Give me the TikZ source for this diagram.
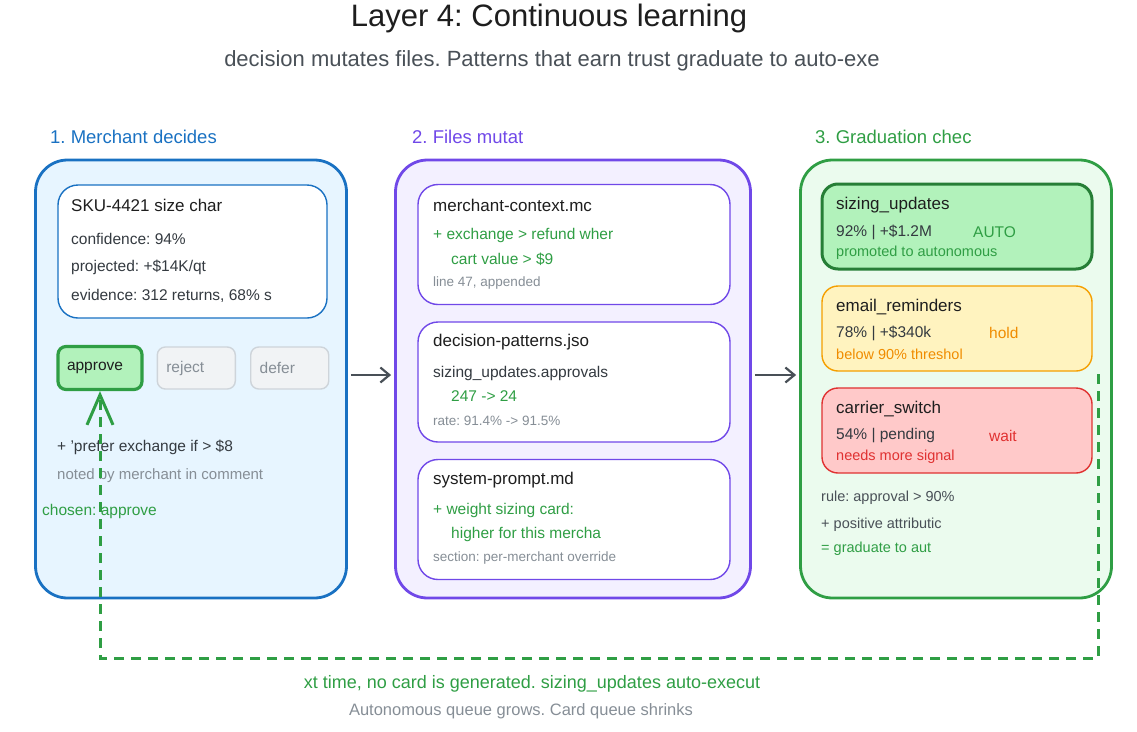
\documentclass[tikz,border=0pt]{standalone}
\usepackage{fontspec}
\setmainfont{Liberation Sans}
\usetikzlibrary{arrows.meta, positioning}
\definecolor{inkdark}{HTML}{1E1E1E}
\definecolor{inkbody}{HTML}{343A40}
\definecolor{inkgray}{HTML}{868E96}
\definecolor{inkarrow}{HTML}{495057}
\definecolor{decideblue}{HTML}{1971C2}
\definecolor{decidefill}{HTML}{E7F5FF}
\definecolor{filepurple}{HTML}{7048E8}
\definecolor{filefill}{HTML}{F3F0FF}
\definecolor{gradgreen}{HTML}{2F9E44}
\definecolor{gradfill}{HTML}{EBFBEE}
\definecolor{autofill}{HTML}{B2F2BB}
\definecolor{holdorange}{HTML}{F59F00}
\definecolor{holdtext}{HTML}{F08C00}
\definecolor{holdfill}{HTML}{FFF3BF}
\definecolor{waitred}{HTML}{E03131}
\definecolor{waitfill}{HTML}{FFC9C9}
\definecolor{btngray}{HTML}{CED4DA}
\definecolor{btnfill}{HTML}{F1F3F5}
\newcommand{\txtsize}[1]{\fontsize{#1pt}{#1pt}\selectfont}
\frenchspacing

\begin{document}
\begin{tikzpicture}[
      x=1pt, y=-1pt,
      node distance  = 13pt,
      panel/.style    = {line width=2.8pt, rounded corners=32pt, minimum width=311pt,
                         minimum height=438pt, inner sep=0pt},
      card/.style     = {draw, fill=white, line width=1.4pt, rounded corners=20pt,
                         minimum width=312pt, minimum height=120pt, inner sep=0pt},
      gcard/.style    = {card, rounded corners=16pt, minimum width=270pt, minimum height=85pt},
      button/.style   = {line width=1.4pt, rounded corners=8pt, minimum height=42pt,
                         inner xsep=9pt, align=left, font=\txtsize{15.5}},
      txt/.style      = {anchor=west, inner sep=0pt, font=\txtsize{15.5}, text=inkbody},
      headtxt/.style  = {txt, font=\txtsize{17}, text=inkdark},
      notetxt/.style  = {txt, font=\txtsize{13.5}, text=inkgray},
      sectxt/.style   = {txt, font=\txtsize{18.5}},
      flow/.style     = {-{Straight Barb[length=9pt, width=15pt]}, line width=2.2pt, inkarrow,
                         shorten <=3pt, shorten >=3pt},
      loopback/.style = {-{Straight Barb[length=30pt, width=26pt, line width=3pt]}, line width=3pt,
                         gradgreen, dash pattern=on 10pt off 7pt}
    ]
    \useasboundingbox (0,0) rectangle (1137,731);

    % Headings
    \node[font=\txtsize{31}, text=inkdark] (title) at (549,18) {Layer 4: Continuous learning};
    \node[font=\txtsize{22}, text=inkarrow] (subtitle) at (552,61)
      {decision mutates files. Patterns that earn trust graduate to auto-exe};
    \node[sectxt, text=decideblue] (head1) at (50,137) {1. Merchant decides};
    \node[sectxt, text=filepurple] (head2) at (412,137) {2. Files mutat};
    \node[sectxt, text=gradgreen] (head3) at (815,137) {3. Graduation chec};

    % Panels
    \node[panel, draw=decideblue, fill=decidefill] (decide) at (191,379) {};
    \node[panel, draw=filepurple, fill=filefill, minimum width=355pt] (files) at (573,379) {};
    \node[panel, draw=gradgreen, fill=gradfill] (grad) at (956,379) {};

    % 1. Merchant decides
    \node[card, draw=decideblue, minimum width=269pt, minimum height=133pt] (sku) at (192.5,251.5) {};
    \node[headtxt] (skuhead) at (71,205) {SKU-4421 size char};
    \node[txt] (skuconf) at (71,239) {confidence: 94\%};
    \node[txt] (skuproj) at (71,267) {projected: +\$14K/qt};
    \node[txt] (skuevid) at (71,296) {evidence: 312 returns, 68\% s};
    \node[button, draw=gradgreen, line width=3.2pt, fill=autofill, text=inkdark,
          text width=66pt, minimum height=43pt] (approve) at (100,368) {approve};
    \node[button, draw=btngray, fill=btnfill, text=inkgray, text width=60pt,
          right=of approve] (reject) {reject};
    \node[button, draw=btngray, fill=btnfill, text=inkgray, text width=60pt,
          right=14pt of reject] (defer) {defer};
    \node[txt] (prefer) at (57,447) {+ 'prefer exchange if > \$8};
    \node[notetxt, font=\txtsize{15}] (noted) at (57,476) {noted by merchant in comment};
    \node[txt, text=gradgreen] (chosen) at (42,511) {chosen: approve};

    % 2. Files mutate
    \node[card, draw=filepurple] (ctxfile) at (574,244.5) {};
    \node[headtxt] (ctxhead) at (433,205) {merchant-context.mc};
    \node[txt, text=gradgreen] (ctxadd) at (433,235) {+ exchange > refund wher};
    \node[txt, text=gradgreen] (ctxcart) at (451,259) {cart value > \$9};
    \node[notetxt] (ctxline) at (433,283) {line 47, appended};
    \node[card, draw=filepurple] (patfile) at (574,382) {};
    \node[headtxt] (pathead) at (433,342) {decision-patterns.jso};
    \node[txt] (patkey) at (433,373) {sizing\_updates.approvals};
    \node[txt, text=gradgreen] (patcount) at (451,396) {247 -> 24};
    \node[notetxt] (patrate) at (433,421) {rate: 91.4\% -> 91.5\%};
    \node[card, draw=filepurple] (sysfile) at (574,519.5) {};
    \node[headtxt] (syshead) at (433,480) {system-prompt.md};
    \node[txt, text=gradgreen] (sysadd) at (433,510) {+ weight sizing card:};
    \node[txt, text=gradgreen] (syshigh) at (451,534) {higher for this mercha};
    \node[notetxt] (syssect) at (433,558) {section: per-merchant override};

    % 3. Graduation check
    \node[gcard, draw=gradgreen!80!black, line width=3pt, fill=autofill] (sizing) at (957,226.5) {};
    \node[headtxt] (sizinghead) at (836,205) {sizing\_updates};
    \node[txt] (sizingstat) at (836,232) {92\% | +\$1.2M};
    \node[txt, text=gradgreen] (sizingtag) at (973,232) {AUTO};
    \node[notetxt, text=gradgreen, font=\txtsize{14.5}] (sizingnote) at (836,253) {promoted to autonomous};
    \node[gcard, draw=holdorange, fill=holdfill] (email) at (957,328.5) {};
    \node[headtxt] (emailhead) at (836,307) {email\_reminders};
    \node[txt] (emailstat) at (836,333) {78\% | +\$340k};
    \node[txt, text=holdtext] (emailtag) at (989,333) {hold};
    \node[notetxt, text=holdtext, font=\txtsize{14.5}] (emailnote) at (836,354) {below 90\% threshol};
    \node[gcard, draw=waitred, fill=waitfill] (carrier) at (957,430.5) {};
    \node[headtxt] (carrierhead) at (836,409) {carrier\_switch};
    \node[txt] (carrierstat) at (836,436) {54\% | pending};
    \node[txt, text=waitred] (carriertag) at (989,436) {wait};
    \node[notetxt, text=waitred, font=\txtsize{14.5}] (carriernote) at (836,457) {needs more signal};
    \node[txt, text=inkarrow, font=\txtsize{14.5}] (rule) at (821,498) {rule: approval > 90\%};
    \node[txt, text=inkarrow, font=\txtsize{14.5}] (attrib) at (821,525) {+ positive attributic};
    \node[txt, text=gradgreen, font=\txtsize{14.5}] (graduate) at (821,549) {= graduate to aut};

    % Footer
    \node[font=\txtsize{18}, text=gradgreen] (nexttime) at (532,684)
      {xt time, no card is generated. sizing\_updates auto-execut};
    \node[font=\txtsize{16.5}, text=inkgray] (queues) at (521,711)
      {Autonomous queue grows. Card queue shrinks};

    % Relationships
    \coordinate (loopstart) at (1098,374);
    \coordinate (loopcorner) at (1098,658);
    \draw[flow] ([yshift=4pt]decide.east) -- ([yshift=4pt]files.west);
    \draw[flow] ([yshift=4pt]files.east) -- ([yshift=4pt]grad.west);
    \draw[loopback] (loopstart) -- (loopcorner) -| (approve.south);

  \end{tikzpicture}
\end{document}
